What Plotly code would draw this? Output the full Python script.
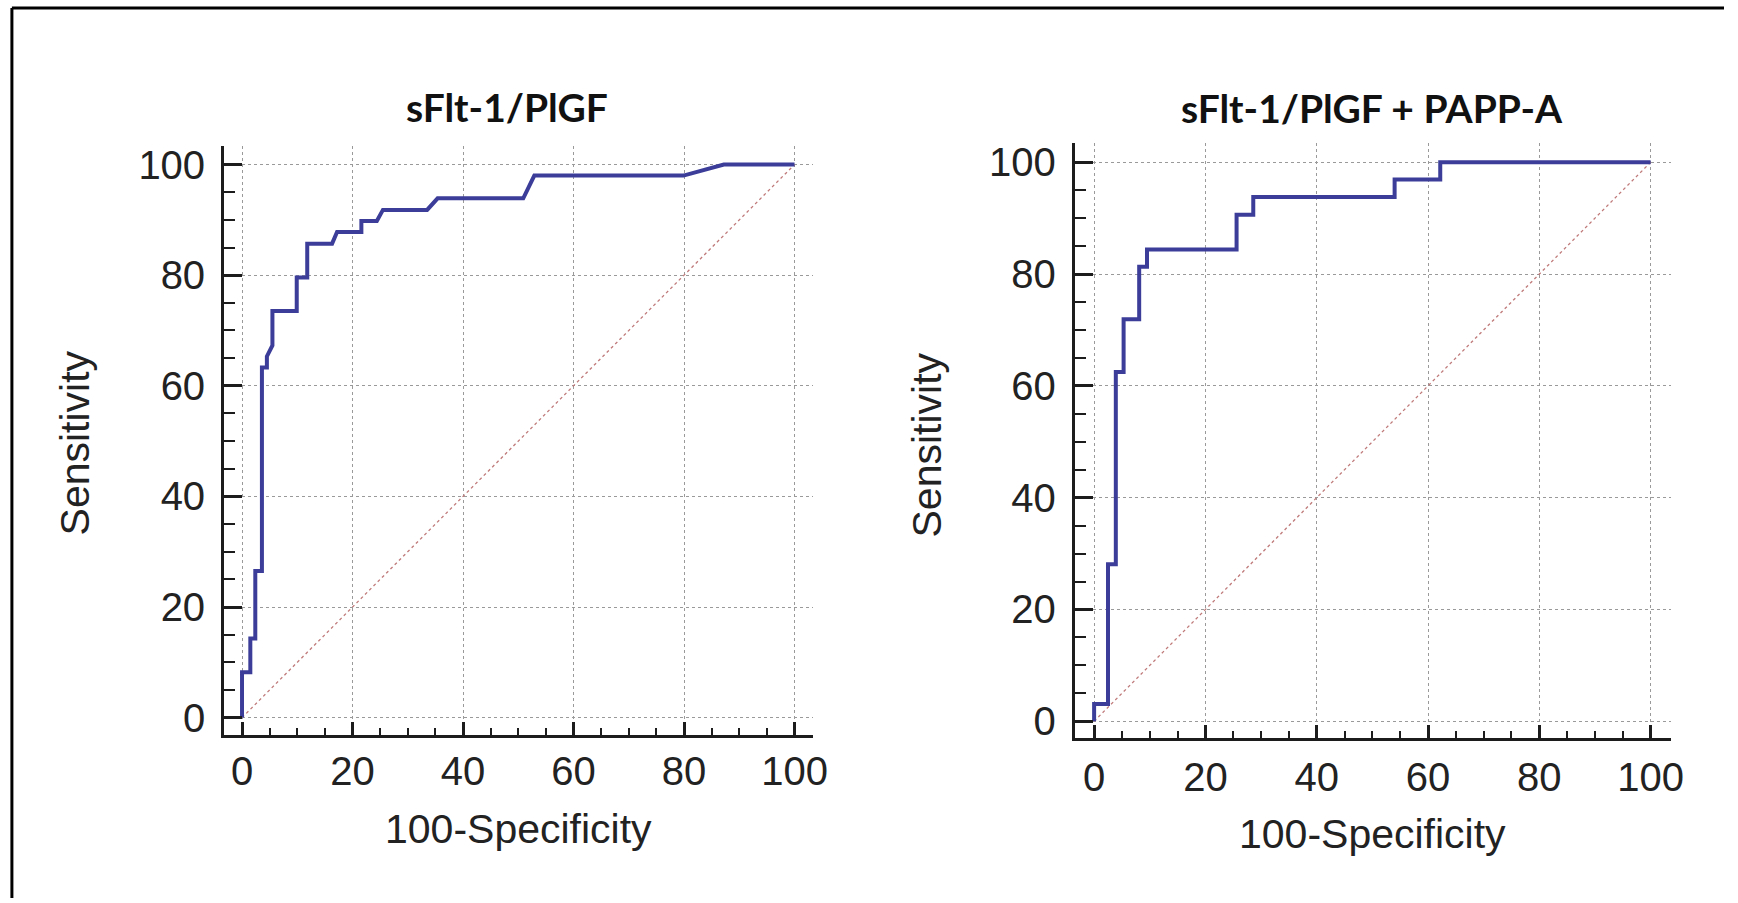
import plotly.graph_objects as go

# ---------------- data ----------------
roc1_fpr = [0, 0, 1.5, 1.5, 2.4, 2.4, 3.6, 3.6, 4.5, 4.5, 5.5, 5.5, 9.9, 9.9, 11.8, 11.8,
            16.3, 17.2, 21.6, 21.6, 24.4, 25.5, 33.5, 35.4, 50.9, 52.9, 79.9, 87.2, 100]
roc1_sens = [0, 8.2, 8.2, 14.3, 14.3, 26.5, 26.5, 63.3, 63.3, 65.3, 67.3, 73.5, 73.5, 79.6, 79.6, 85.7,
             85.7, 87.8, 87.8, 89.8, 89.8, 91.8, 91.8, 93.9, 93.9, 98.0, 98.0, 100, 100]

roc2_fpr = [0, 0, 2.5, 2.5, 3.9, 3.9, 5.3, 5.3, 8.1, 8.1, 9.5, 9.5, 25.6, 25.6, 28.6, 28.6,
            54.0, 54.0, 62.2, 62.2, 100]
roc2_sens = [0, 3.1, 3.1, 28.1, 28.1, 62.5, 62.5, 71.9, 71.9, 81.3, 81.3, 84.4, 84.4, 90.6, 90.6, 93.8,
             93.8, 96.9, 96.9, 100, 100]

diag = [0, 100]
tick_vals = [0, 20, 40, 60, 80, 100]
tick_text = ["0", "20", "40", "60", "80", "100"]

titles = ["sFlt-1/PlGF", "sFlt-1/PlGF + PAPP-A"]
x_title = "100-Specificity"
y_title = "Sensitivity"

# ---------------- layout helpers ----------------
W, H = 1738, 903
def fx(px):
    return px / W
def fy(py):
    return 1 - py / H

def xdomain(p0, p100, lo, hi):
    s = (p100 - p0) / 100.0
    return [fx(p0 + lo * s), fx(p0 + hi * s)]

def ydomain(p0, p100, lo, hi):
    s = (p0 - p100) / 100.0
    return [fy(p0 - lo * s), fy(p0 - hi * s)]

CURVE = "#3b3d99"
DIAG = "#c07a7a"
AXC = "#1c1c1c"
TICKFONT = dict(family="Liberation Sans, Arial, sans-serif", size=40, color="#222222")
TITLEFONT = dict(family="Liberation Sans, Arial, sans-serif", size=41, color="#222222")

fig = go.Figure()

for i, (fpr, sens) in enumerate([(roc1_fpr, roc1_sens), (roc2_fpr, roc2_sens)]):
    xa = "x" if i == 0 else "x2"
    ya = "y" if i == 0 else "y2"
    fig.add_trace(go.Scatter(x=diag, y=diag, mode="lines", xaxis=xa, yaxis=ya,
                             line=dict(color=DIAG, width=1.3, dash="dot"), showlegend=False,
                             hoverinfo="skip"))
    fig.add_trace(go.Scatter(x=fpr, y=sens, mode="lines", xaxis=xa, yaxis=ya,
                             line=dict(color=CURVE, width=4), showlegend=False))

common = dict(showline=True, linecolor=AXC, linewidth=3, ticks="inside", tickwidth=3,
              tickcolor=AXC, showgrid=True, gridcolor="#9a9a9a", griddash="dot", gridwidth=1,
              zeroline=False, tickvals=tick_vals, ticktext=tick_text, tickfont=TICKFONT,
              mirror=False)

xminor = dict(dtick=5, tick0=0, ticks="inside", ticklen=7, tickwidth=2, tickcolor=AXC, showgrid=False)
yminor = dict(dtick=5, tick0=0, ticks="inside", ticklen=11, tickwidth=2, tickcolor=AXC, showgrid=False)

X1R = [-3.24, 103.42]
Y1R = [-3.07, 103.43]
X2R = [-3.47, 103.64]
Y2R = [-2.95, 103.4]

fig.update_layout(
    width=W, height=H,
    margin=dict(l=0, r=0, t=0, b=0),
    paper_bgcolor="white", plot_bgcolor="white",
    xaxis=dict(common, ticklen=13, ticklabelstandoff=-1, minor=xminor,
               domain=xdomain(244, 801, *X1R), range=X1R, anchor="y"),
    yaxis=dict(common, ticklen=18, ticklabelstandoff=8, minor=yminor,
               domain=ydomain(721, 163, *Y1R), range=Y1R, anchor="x"),
    xaxis2=dict(common, ticklen=13, ticklabelstandoff=2, minor=xminor,
                domain=xdomain(1103, 1664, *X2R), range=X2R, anchor="y2"),
    yaxis2=dict(common, ticklen=18, ticklabelstandoff=8, minor=yminor,
                domain=ydomain(724.7, 160.7, *Y2R), range=Y2R, anchor="x2"),
)

annotations = []
for (tx, ty, t) in [(511, 105, titles[0]), (1383, 106, titles[1])]:
    annotations.append(dict(x=fx(tx), y=fy(ty), xref="paper", yref="paper", text="<b>" + t + "</b>",
                            showarrow=False, xanchor="center", yanchor="middle",
                            font=dict(family="Lato, Open Sans, sans-serif", size=39, color="#111111")))
for (tx, ty) in [(523, 833), (1384, 838)]:
    annotations.append(dict(x=fx(tx), y=fy(ty), xref="paper", yref="paper", text=x_title,
                            showarrow=False, xanchor="center", yanchor="middle", font=TITLEFONT))
for (tx, ty) in [(76, 444), (935, 446)]:
    annotations.append(dict(x=fx(tx), y=fy(ty), xref="paper", yref="paper", text=y_title,
                            showarrow=False, xanchor="center", yanchor="middle", textangle=-90,
                            font=TITLEFONT))
fig.update_layout(annotations=annotations)

# outer frame (top and left edges visible)
fig.add_shape(type="line", xref="paper", yref="paper", x0=fx(12), y0=fy(5), x1=1.0, y1=fy(5),
              line=dict(color="black", width=3))
fig.add_shape(type="line", xref="paper", yref="paper", x0=fx(12), y0=fy(5), x1=fx(12), y1=0.0,
              line=dict(color="black", width=3))

fig.write_html("out.html", config={"displayModeBar": False},
               post_script="document.body.style.margin='0';document.body.style.overflow='hidden';")
